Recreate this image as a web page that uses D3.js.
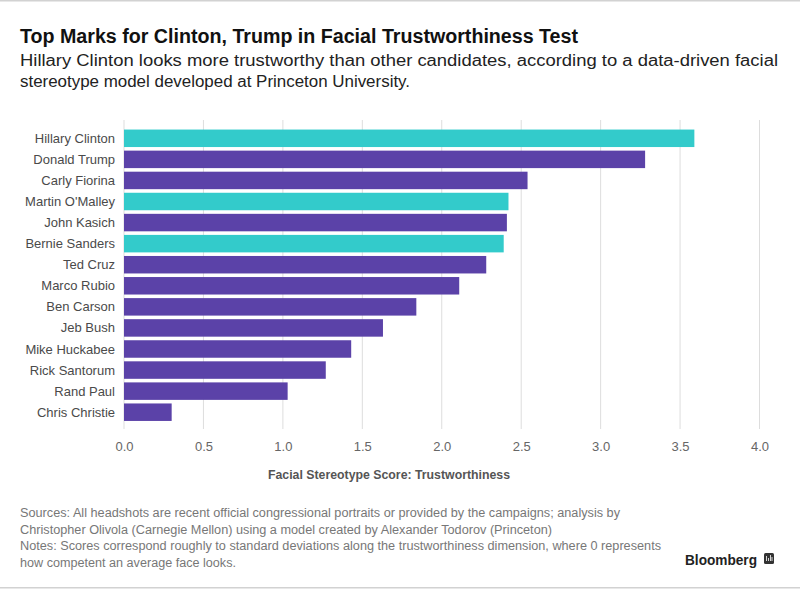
<!DOCTYPE html>
<html lang="en">
<head>
<meta charset="utf-8"/>
<title>Facial Trustworthiness</title>
<script src="https://d3js.org/d3.v7.min.js"></script>
<style>
  body { margin: 0; background: #fff; }
  svg text { font-family: "Liberation Sans", Arial, sans-serif; }
</style>
</head>
<body>
<div id="chart"></div>
<script>
// data
var candidates = ["Hillary Clinton", "Donald Trump", "Carly Fiorina", "Martin O'Malley", "John Kasich",
  "Bernie Sanders", "Ted Cruz", "Marco Rubio", "Ben Carson", "Jeb Bush", "Mike Huckabee",
  "Rick Santorum", "Rand Paul", "Chris Christie"];
var scores = [3.59, 3.28, 2.54, 2.42, 2.41, 2.39, 2.28, 2.11, 1.84, 1.63, 1.43, 1.27, 1.03, 0.30];
var parties = ["D", "R", "R", "D", "R", "D", "R", "R", "R", "R", "R", "R", "R", "R"];
var ticks = [0, 0.5, 1, 1.5, 2, 2.5, 3, 3.5, 4];

var w = 800, h = 589;
var svg = d3.select("#chart").append("svg").attr("width", w).attr("height", h);

// frame lines top and bottom
svg.append("rect").attr("x", 0).attr("y", 0).attr("width", w).attr("height", 1.5).attr("fill", "#d2d2d2");
svg.append("rect").attr("x", 0).attr("y", h - 2).attr("width", w).attr("height", 1.5).attr("fill", "#d2d2d2");

svg.append("text").attr("x", 20).attr("y", 43)
  .attr("font-size", 20).attr("font-weight", "bold").attr("fill", "#111")
  .attr("textLength", 558).attr("lengthAdjust", "spacingAndGlyphs")
  .text("Top Marks for Clinton, Trump in Facial Trustworthiness Test");
svg.append("text").attr("x", 20).attr("y", 66).attr("font-size", 16).attr("fill", "#222")
  .attr("textLength", 758).attr("lengthAdjust", "spacingAndGlyphs")
  .text("Hillary Clinton looks more trustworthy than other candidates, according to a data-driven facial");
svg.append("text").attr("x", 20).attr("y", 87).attr("font-size", 16).attr("fill", "#222")
  .attr("textLength", 390).attr("lengthAdjust", "spacingAndGlyphs")
  .text("stereotype model developed at Princeton University.");

var x = d3.scaleLinear().domain([0, 4]).range([124, 759.5]);
var y = d3.scaleBand().domain(candidates).range([128.5, 422]).paddingInner(0.17).paddingOuter(0.05);
var color = function (p) { return p === "D" ? "#33cbcb" : "#5b42a8"; };

// grid
svg.selectAll(".grid").data(ticks).enter().append("line")
  .attr("x1", function (d) { return x(d); }).attr("x2", function (d) { return x(d); })
  .attr("y1", 120).attr("y2", 429).attr("stroke", "#dddddd").attr("stroke-width", 1);

// bars
svg.selectAll(".bar").data(scores).enter().append("rect")
  .attr("x", x(0))
  .attr("y", function (d, i) { return y(candidates[i]); })
  .attr("width", function (d) { return x(d) - x(0); })
  .attr("height", y.bandwidth())
  .attr("fill", function (d, i) { return color(parties[i]); });

// category labels
svg.selectAll(".lab").data(candidates).enter().append("text")
  .attr("x", 115).attr("y", function (d) { return y(d) + y.bandwidth() / 2; })
  .attr("dy", "0.35em").attr("text-anchor", "end")
  .attr("font-size", 13).attr("fill", "#4a4a4a")
  .text(function (d) { return d; });

// x axis labels
var axis = d3.axisBottom(x).tickValues(ticks).tickFormat(d3.format(".1f")).tickSize(0).tickPadding(0);
var ax = svg.append("g").attr("transform", "translate(0,442)").call(axis);
ax.select(".domain").remove();
ax.selectAll("text").attr("font-size", 13).attr("fill", "#666")
  .attr("font-family", "'Liberation Sans', Arial, sans-serif");

svg.append("text").attr("x", 389).attr("y", 479).attr("text-anchor", "middle")
  .attr("font-size", 12).attr("font-weight", "bold").attr("fill", "#555")
  .attr("textLength", 242).attr("lengthAdjust", "spacingAndGlyphs")
  .text("Facial Stereotype Score: Trustworthiness");

// footer
var notes = [
  "Sources: All headshots are recent official congressional portraits or provided by the campaigns; analysis by",
  "Christopher Olivola (Carnegie Mellon) using a model created by Alexander Todorov (Princeton)",
  "Notes: Scores correspond roughly to standard deviations along the trustworthiness dimension, where 0 represents",
  "how competent an average face looks."];
var noteLens = [600, 532, 641, 216];
svg.selectAll(".note").data(notes).enter().append("text")
  .attr("x", 20).attr("y", function (d, i) { return 517 + i * 16.5; })
  .attr("font-size", 12).attr("fill", "#777")
  .attr("textLength", function (d, i) { return noteLens[i]; }).attr("lengthAdjust", "spacingAndGlyphs")
  .text(function (d) { return d; });

svg.append("text").attr("x", 685).attr("y", 565)
  .attr("font-size", 14).attr("font-weight", "bold").attr("fill", "#222")
  .attr("textLength", 72).attr("lengthAdjust", "spacingAndGlyphs")
  .text("Bloomberg");
// little logo mark
svg.append("rect").attr("x", 764).attr("y", 553).attr("width", 10).attr("height", 11)
  .attr("rx", 1.5).attr("fill", "#333");
svg.append("path").attr("d", "M766.5,556v5M768.5,558v3M770.5,555v6M772,557v4")
  .attr("stroke", "#fff").attr("stroke-width", 0.8);
</script>
</body>
</html>
